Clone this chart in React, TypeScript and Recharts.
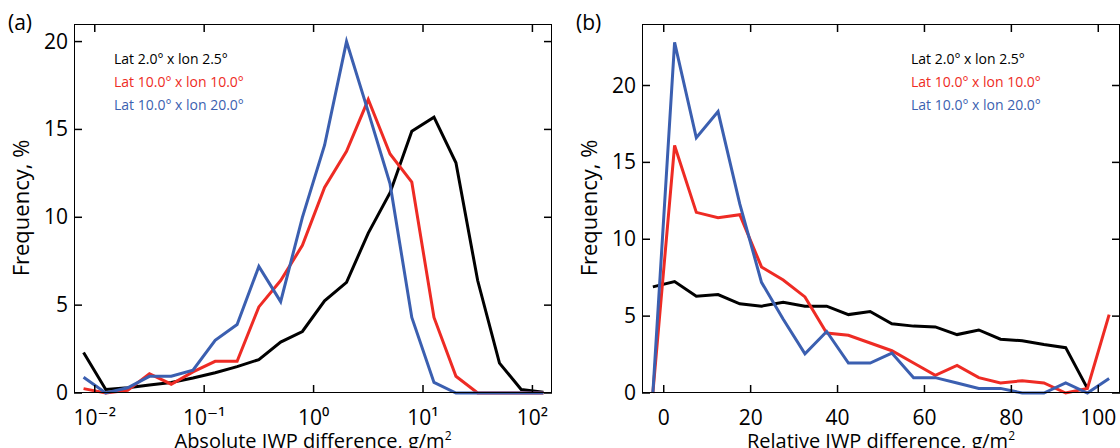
import { Line, LineChart, XAxis, YAxis } from "recharts";

const absBins = [0.0079, 0.0126, 0.02, 0.0316, 0.05, 0.079, 0.126, 0.2, 0.316, 0.5, 0.79, 1.26, 2, 3.16, 5, 7.9, 12.6, 20, 31.6, 50, 79, 126];
const absBlack = [2.3, 0.2, 0.3, 0.45, 0.6, 0.85, 1.15, 1.5, 1.9, 2.9, 3.5, 5.25, 6.3, 9.1, 11.4, 14.9, 15.7, 13.1, 6.4, 1.7, 0.2, 0.05];
const absRed = [0.25, 0, 0.15, 1.1, 0.5, 1.2, 1.8, 1.8, 4.9, 6.4, 8.4, 11.7, 13.75, 16.7, 13.6, 12.0, 4.3, 0.95, 0, 0, 0, 0];
const absBlue = [0.9, 0, 0.3, 0.95, 0.95, 1.3, 3.0, 3.9, 7.2, 5.2, 10.0, 14.1, 20.0, 16.0, 11.9, 4.3, 0.6, 0, 0, 0, 0, 0];

const relBins = [-2.5, 2.5, 7.5, 12.5, 17.5, 22.5, 27.5, 32.5, 37.5, 42.5, 47.5, 52.5, 57.5, 62.5, 67.5, 72.5, 77.5, 82.5, 87.5, 92.5, 97.5, 102.5];
const relBlack = [6.9, 7.25, 6.3, 6.4, 5.8, 5.65, 5.9, 5.65, 5.65, 5.1, 5.3, 4.5, 4.35, 4.3, 3.8, 4.1, 3.5, 3.4, 3.15, 2.95, 0.3, null];
const relRed = [0, 16.1, 11.75, 11.4, 11.6, 8.2, 7.35, 6.25, 3.9, 3.75, 3.25, 2.75, 1.95, 1.15, 1.8, 1.0, 0.65, 0.8, 0.65, 0, 0.3, 5.1];
const relBlue = [0, 22.8, 16.6, 18.3, 12.3, 7.2, 4.8, 2.55, 4.0, 1.95, 1.95, 2.6, 1.0, 1.0, 0.65, 0.3, 0.3, 0, 0, 0.65, 0, 0.95];

const legendLabels = ["Lat 2.0° x lon 2.5°", "Lat 10.0° x lon 10.0°", "Lat 10.0° x lon 20.0°"];
const colors = ["#000000", "#ee2b24", "#3b5fb0"];
const logTicks = [0.01, 0.1, 1, 10, 100];
const logLabels = ["10⁻²", "10⁻¹", "10⁰", "10¹", "10²"];
const absYTicks = [0, 5, 10, 15, 20];
const relXTicks = [0, 20, 40, 60, 80, 100];
const relYTicks = [0, 5, 10, 15, 20];

const font = "'Open Sans', 'DejaVu Sans', sans-serif";
const W = 560, H = 448;
const M = { left: 34, top: 24, right: 8, bottom: 30 };
const YW = 40, XH = 25;
const plotTop = M.top, plotBottom = H - M.bottom - XH, plotLeft = M.left + YW, plotRight = W - M.right;
const GAP = 18;

const absData = absBins.map((x, i) => ({ x, k: absBlack[i], r: absRed[i], b: absBlue[i] }));
const relData = relBins.map((x, i) => ({ x, k: relBlack[i], r: relRed[i], b: relBlue[i] }));

function XTick({ x, y, payload, fmt }: any) {
  return (
    <g>
      <line x1={x} x2={x} y1={plotBottom} y2={plotBottom - 8} stroke="#000" strokeWidth={1.5} />
      <line x1={x} x2={x} y1={plotTop} y2={plotTop + 8} stroke="#000" strokeWidth={1.5} />
      <text x={x} y={y} dy={14} textAnchor="middle" fontSize={21} fontFamily={font} fill="#000">{fmt(payload.value)}</text>
    </g>
  );
}

function YTick({ x, y, payload }: any) {
  return (
    <g>
      <line x1={plotLeft} x2={plotLeft + 8} y1={y} y2={y} stroke="#000" strokeWidth={1.5} />
      <line x1={plotRight} x2={plotRight - 8} y1={y} y2={y} stroke="#000" strokeWidth={1.5} />
      <text x={x} y={y} dy={7} textAnchor="end" fontSize={21} fontFamily={font} fill="#000">{payload.value}</text>
    </g>
  );
}

function Legend({ left, top }: { left: number; top: number }) {
  return (
    <div style={{ position: "absolute", left, top, fontFamily: font, fontSize: 14, lineHeight: "23px" }}>
      {legendLabels.map((l, i) => <div key={l} style={{ color: colors[i] }}>{l}</div>)}
    </div>
  );
}

function Panel({ data, xProps, xTicks, yDomain, yTicks, xLabel, tag, left, xFmt }: any) {
  return (
    <div style={{ position: "absolute", left, top: 0, width: W, height: H }}>
      <LineChart width={W} height={H} data={data} margin={M}>
        <XAxis dataKey="x" type="number" {...xProps} ticks={xTicks} stroke="#000" axisLine={false} tickLine={false}
          tick={<XTick fmt={xFmt} />} tickSize={0} tickMargin={GAP} height={XH} />
        <YAxis type="number" domain={yDomain} ticks={yTicks} stroke="#000" axisLine={false} tickLine={false}
          tick={<YTick />} tickSize={0} tickMargin={6} width={YW} />
        <Line dataKey="k" stroke={colors[0]} strokeWidth={3} dot={false} isAnimationActive={false} />
        <Line dataKey="r" stroke={colors[1]} strokeWidth={3} dot={false} isAnimationActive={false} />
        <Line dataKey="b" stroke={colors[2]} strokeWidth={3} dot={false} isAnimationActive={false} />
      </LineChart>
      <div style={{ position: "absolute", left: plotLeft, top: plotTop, width: plotRight - plotLeft, height: plotBottom - plotTop, border: "1.5px solid #000", boxSizing: "border-box", pointerEvents: "none" }} />
      <div style={{ position: "absolute", left: plotLeft, width: plotRight - plotLeft, top: 424, textAlign: "center", fontFamily: font, fontSize: 20, lineHeight: "23px" }}>{xLabel}</div>
      <div style={{ position: "absolute", left: 8, top: 8, fontFamily: font, fontSize: 21 }}>{tag}</div>
      <div style={{ position: "absolute", left: -80, top: 193, width: 200, textAlign: "center", transform: "rotate(-90deg)", fontFamily: font, fontSize: 22 }}>Frequency, %</div>
    </div>
  );
}

export default function App() {
  return (
    <div style={{ position: "absolute", left: 0, top: 0, width: 1120, height: 448, background: "#fff", overflow: "hidden" }}>
      <Panel data={absData} left={0} tag="(a)" xLabel={<span>Absolute IWP difference, g/m<sup style={{ fontSize: 12 }}>2</sup></span>}
        xProps={{ scale: "log", domain: [0.00646, 151] }} xTicks={logTicks} xFmt={(v: number) => logLabels[logTicks.indexOf(v)] ?? ""}
        yDomain={[0, 21]} yTicks={absYTicks} />
      <Panel data={relData} left={568} tag="(b)" xLabel={<span>Relative IWP difference, g/m<sup style={{ fontSize: 12 }}>2</sup></span>}
        xProps={{ domain: [-5, 105] }} xTicks={relXTicks} xFmt={(v: number) => String(v)}
        yDomain={[0, 24]} yTicks={relYTicks} />
      <Legend left={114} top={47} />
      <Legend left={911} top={47} />
    </div>
  );
}
